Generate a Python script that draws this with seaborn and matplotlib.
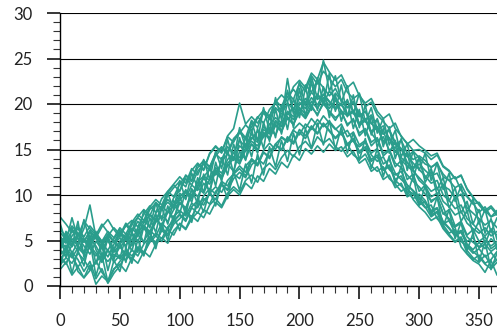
import numpy as np
import pandas as pd
import matplotlib
matplotlib.use("Agg")
import matplotlib.pyplot as plt
import seaborn as sns
from matplotlib.ticker import MultipleLocator

# Day positions (every 5 days, 0..365)
days = list(range(0, 366, 5))

line01 = [7.6, 6.8, 5.9, 6.5, 5.2, 4.6, 5.8, 4.9, 5.5, 6.4,
          5.7, 6.6, 7.2, 6.5, 7.9, 8.8, 8.1, 9.6, 10.4, 9.8,
          11.2, 12.1, 11.5, 13.0, 13.8, 13.1, 14.6, 15.3, 14.7, 16.2,
          16.9, 16.1, 17.5, 18.6, 17.9, 19.4, 20.1, 19.2, 20.8, 21.6,
          20.7, 22.1, 21.3, 22.6, 21.8, 20.9, 21.7, 20.4, 19.6, 20.3,
          18.9, 18.2, 18.8, 17.4, 16.7, 17.2, 15.8, 15.1, 14.2, 14.8,
          14.1, 13.4, 13.1, 13.4, 12.3, 11.6, 10.8, 11.2, 9.9, 9.1,
          8.1, 8.7, 7.6, 7.9]
line02 = [1.8, 2.6, 1.2, 2.1, 0.9, 1.7, 2.8, 1.5, 0.6, 1.9,
          2.4, 1.6, 3.1, 2.5, 3.8, 3.2, 4.6, 5.3, 4.7, 6.1,
          6.8, 6.2, 7.4, 8.1, 7.5, 8.9, 9.6, 8.8, 10.2, 10.9,
          10.3, 11.6, 12.2, 11.4, 12.9, 13.5, 12.8, 14.1, 14.9, 14.2,
          15.3, 15.9, 15.1, 16.4, 15.7, 16.2, 15.3, 14.8, 15.6, 14.4,
          13.9, 14.5, 13.2, 12.6, 13.1, 11.8, 11.2, 10.4, 10.9, 9.5,
          8.7, 8.1, 7.2, 7.6, 6.3, 5.5, 4.8, 5.3, 3.9, 3.1,
          2.6, 3.4, 2.2, 2.9]
line03 = [4.2, 5.1, 3.6, 4.8, 6.3, 8.9, 5.4, 4.1, 3.2, 4.6,
          5.3, 4.4, 5.9, 4.8, 6.7, 5.8, 7.4, 6.6, 8.2, 7.5,
          9.1, 8.4, 10.6, 9.8, 11.3, 10.5, 12.8, 11.9, 13.4, 12.6,
          14.8, 13.9, 15.6, 14.7, 16.9, 16.1, 17.8, 16.9, 18.6, 17.7,
          19.4, 18.5, 19.9, 18.7, 20.3, 19.1, 18.2, 19.3, 17.6, 18.4,
          16.5, 17.2, 15.4, 16.1, 14.3, 14.9, 13.1, 13.8, 11.7, 12.3,
          10.4, 11.1, 9.2, 9.8, 7.9, 8.4, 6.6, 7.1, 5.6, 6.2,
          4.9, 5.4, 4.1, 4.6]
line04 = [5.4, 4.7, 6.2, 5.5, 7.1, 6.3, 5.6, 6.8, 5.9, 4.8,
          5.6, 6.9, 6.1, 7.6, 8.4, 7.7, 9.2, 8.5, 10.3, 11.1,
          10.4, 12.2, 11.6, 13.4, 12.7, 14.5, 15.3, 14.6, 16.4, 15.8,
          17.1, 16.3, 18.2, 17.4, 19.3, 18.6, 20.4, 19.7, 21.2, 20.5,
          22.3, 21.4, 23.1, 22.2, 23.6, 22.8, 21.9, 22.7, 21.3, 20.6,
          21.1, 19.7, 20.2, 18.8, 18.1, 17.3, 17.9, 16.4, 15.7, 14.9,
          15.0, 14.6, 13.9, 14.4, 13.1, 12.6, 11.8, 12.1, 10.7, 9.8,
          8.9, 8.1, 8.6, 7.8]
line05 = [3.1, 2.4, 3.8, 2.9, 1.6, 2.7, 0.8, 1.9, 0.3, 1.4,
          2.2, 3.5, 2.8, 4.1, 3.4, 5.2, 4.6, 6.3, 5.7, 7.1,
          7.8, 7.1, 8.6, 8.0, 9.4, 10.1, 9.5, 11.2, 10.6, 12.3,
          12.9, 12.1, 13.8, 13.2, 14.7, 14.0, 15.6, 15.0, 16.4, 15.8,
          17.2, 16.5, 17.6, 16.8, 17.9, 17.1, 16.3, 17.0, 15.6, 16.2,
          14.8, 15.3, 13.9, 14.4, 12.8, 13.3, 11.7, 12.1, 10.6, 10.1,
          9.3, 8.6, 8.9, 7.4, 6.7, 5.8, 6.2, 4.9, 4.3, 3.6,
          4.1, 3.2, 3.7, 2.8]
line06 = [4.6, 3.9, 5.2, 4.4, 3.7, 4.9, 5.8, 4.6, 5.3, 4.1,
          4.9, 5.7, 5.0, 6.4, 7.2, 6.5, 8.0, 8.8, 8.1, 9.7,
          10.5, 11.8, 11.1, 12.6, 13.4, 12.7, 14.3, 15.1, 14.5, 16.0,
          16.8, 17.7, 17.0, 18.5, 19.3, 18.6, 20.2, 21.0, 20.3, 21.9,
          22.6, 21.8, 23.4, 22.7, 24.6, 23.5, 22.6, 23.2, 21.8, 22.4,
          20.9, 20.1, 20.6, 19.2, 18.4, 18.9, 17.3, 16.5, 15.6, 16.1,
          15.4, 14.9, 14.3, 14.6, 13.2, 12.7, 11.8, 12.2, 10.6, 9.7,
          9.0, 8.3, 8.8, 8.0]
line07 = [2.3, 3.1, 2.5, 3.6, 2.9, 1.8, 2.6, 3.4, 2.7, 3.5,
          3.0, 3.9, 3.3, 4.2, 3.6, 4.8, 5.5, 4.9, 6.2, 5.6,
          6.9, 6.3, 7.7, 7.1, 8.4, 7.9, 9.2, 8.6, 9.9, 10.6,
          10.0, 11.3, 10.7, 12.1, 11.5, 12.9, 12.3, 13.6, 13.0, 14.4,
          13.8, 15.1, 14.5, 15.4, 14.7, 15.6, 14.9, 15.3, 14.2, 14.8,
          13.5, 14.0, 12.6, 13.1, 11.7, 12.2, 10.8, 11.3, 9.8, 10.2,
          8.9, 9.3, 7.8, 8.2, 6.8, 7.2, 5.8, 6.1, 4.9, 5.3,
          4.2, 4.6, 3.8, 4.3]
line08 = [5.9, 5.1, 4.3, 5.6, 4.8, 6.1, 5.3, 6.5, 7.3, 6.2,
          5.4, 6.7, 5.9, 7.1, 6.4, 7.9, 7.2, 8.7, 9.5, 8.8,
          10.2, 9.6, 11.1, 10.5, 12.0, 12.8, 12.2, 13.7, 14.5, 13.9,
          15.4, 14.8, 16.2, 17.0, 16.3, 17.8, 18.5, 17.9, 19.2, 18.6,
          19.9, 20.6, 19.8, 21.1, 20.3, 19.5, 20.4, 19.2, 18.7, 19.1,
          17.6, 18.2, 16.8, 15.9, 16.4, 14.9, 15.3, 13.8, 13.2, 12.6,
          11.9, 11.2, 10.4, 10.8, 9.3, 8.7, 7.8, 8.2, 6.9, 6.3,
          5.8, 6.4, 5.5, 6.0]
line09 = [3.4, 4.2, 3.3, 2.1, 3.0, 4.4, 3.6, 2.6, 3.9, 3.1,
          4.3, 3.5, 4.7, 5.6, 4.9, 6.1, 5.5, 6.9, 6.2, 7.6,
          8.3, 7.7, 9.1, 8.6, 9.9, 10.7, 10.1, 11.5, 11.0, 12.4,
          13.2, 12.5, 14.0, 13.4, 14.9, 15.7, 15.0, 16.4, 15.9, 17.2,
          17.9, 17.3, 18.4, 17.6, 18.7, 17.9, 17.2, 17.8, 16.4, 16.9,
          15.5, 16.0, 14.6, 15.1, 13.4, 13.9, 12.4, 11.7, 11.1, 10.4,
          9.6, 8.7, 7.6, 8.1, 6.4, 5.7, 4.9, 5.4, 3.6, 2.9,
          3.4, 2.5, 2.9, 3.8]
line10 = [4.8, 5.6, 4.9, 3.8, 5.1, 4.3, 5.5, 4.7, 3.9, 5.2,
          6.0, 5.3, 6.8, 7.5, 6.9, 8.4, 9.1, 8.5, 10.0, 10.8,
          11.5, 10.9, 12.7, 13.5, 12.8, 14.6, 15.4, 14.7, 16.5, 17.3,
          20.1, 17.8, 18.6, 17.9, 19.0, 18.3, 19.6, 18.9, 20.1, 19.4,
          20.6, 19.9, 21.3, 20.5, 21.0, 20.2, 19.4, 20.0, 18.7, 19.3,
          17.8, 18.3, 16.9, 17.4, 15.8, 16.2, 14.7, 15.1, 13.6, 12.9,
          13.4, 12.7, 12.1, 12.4, 11.0, 10.6, 9.7, 10.1, 8.6, 8.0,
          7.4, 6.7, 7.2, 6.4]
line11 = [4.0, 3.2, 4.5, 5.3, 4.4, 3.5, 4.9, 4.1, 5.0, 3.7,
          4.6, 5.4, 4.7, 5.9, 6.6, 6.0, 7.3, 6.7, 8.1, 8.9,
          9.4, 10.3, 9.6, 11.0, 11.8, 11.2, 12.6, 12.1, 13.5, 14.2,
          13.7, 15.2, 15.9, 15.4, 16.8, 16.3, 17.6, 17.1, 18.4, 17.8,
          19.1, 18.4, 19.6, 18.9, 20.0, 19.2, 18.5, 19.0, 17.8, 18.2,
          16.8, 17.3, 15.8, 16.3, 14.6, 15.0, 13.5, 13.0, 12.2, 11.5,
          10.9, 10.1, 9.4, 9.7, 8.0, 7.4, 6.5, 6.9, 5.4, 4.8,
          4.3, 5.0, 4.4, 4.9]
line12 = [6.2, 5.5, 6.6, 5.8, 4.9, 6.0, 5.2, 4.3, 5.6, 4.8,
          5.9, 5.1, 6.3, 5.7, 7.0, 7.8, 7.1, 8.5, 9.2, 8.6,
          9.8, 10.5, 9.9, 11.4, 12.1, 11.6, 13.0, 12.4, 13.9, 14.6,
          14.1, 15.6, 16.3, 15.8, 17.2, 16.7, 18.0, 17.5, 18.9, 19.6,
          18.9, 20.3, 19.6, 21.0, 20.1, 21.4, 20.6, 19.8, 20.4, 19.1,
          18.6, 19.2, 17.9, 17.1, 17.6, 16.2, 15.5, 16.0, 14.6, 13.9,
          14.3, 13.8, 13.0, 13.6, 12.0, 11.6, 12.0, 10.5, 9.8, 9.0,
          9.2, 8.3, 7.6, 8.3]
line13 = [3.3, 2.5, 3.7, 1.6, 0.9, 2.3, 0.2, 1.1, 0.5, 1.8,
          2.7, 3.6, 3.0, 4.3, 3.7, 5.0, 5.8, 5.2, 6.5, 7.2,
          7.9, 7.3, 8.7, 9.4, 8.9, 10.2, 10.9, 10.3, 11.6, 12.3,
          11.8, 13.2, 13.9, 13.3, 14.7, 14.2, 15.6, 16.3, 15.8, 17.1,
          16.6, 17.8, 17.2, 18.3, 17.5, 18.1, 17.3, 16.6, 17.1, 15.9,
          15.3, 15.8, 14.4, 13.7, 14.2, 12.8, 12.2, 12.6, 11.1, 10.5,
          9.8, 9.1, 8.3, 8.6, 7.1, 6.4, 5.6, 6.0, 4.5, 3.8,
          3.2, 2.4, 1.9, 2.6]
line14 = [4.5, 5.4, 4.6, 5.8, 5.0, 4.1, 3.3, 4.5, 5.7, 4.9,
          4.2, 5.1, 4.4, 5.6, 6.3, 5.7, 7.0, 7.7, 7.1, 8.4,
          9.2, 8.6, 10.0, 10.8, 10.2, 11.7, 12.4, 11.8, 13.2, 14.0,
          13.4, 14.9, 15.6, 15.0, 16.5, 17.3, 16.6, 18.1, 22.8, 18.9,
          20.2, 19.5, 20.7, 19.9, 21.1, 20.3, 19.5, 20.1, 18.8, 19.3,
          17.9, 18.4, 17.0, 17.5, 15.9, 16.3, 14.8, 14.1, 13.5, 12.8,
          11.6, 11.0, 9.8, 10.2, 8.7, 7.1, 6.4, 4.3, 3.5, 2.8,
          2.4, 1.5, 2.8, 1.2]
line15 = [2.9, 3.8, 3.1, 4.2, 3.5, 5.3, 4.4, 3.2, 4.0, 2.6,
          3.4, 2.8, 4.0, 3.3, 4.6, 5.4, 4.8, 6.1, 5.5, 6.8,
          7.4, 8.2, 7.6, 8.9, 9.6, 9.0, 10.4, 11.1, 10.5, 11.8,
          12.5, 11.9, 13.3, 14.0, 13.4, 14.8, 15.5, 14.9, 16.2, 15.6,
          16.9, 16.2, 17.4, 16.7, 17.8, 17.0, 16.2, 16.8, 15.5, 16.0,
          14.6, 15.1, 13.7, 14.2, 12.7, 13.1, 11.6, 11.0, 10.3, 9.6,
          10.1, 9.4, 8.1, 8.5, 7.0, 6.3, 5.5, 5.9, 4.6, 4.0,
          4.8, 4.1, 5.2, 4.5]
line16 = [5.0, 4.2, 5.5, 6.3, 5.4, 6.6, 5.8, 4.9, 6.0, 5.3,
          6.4, 5.7, 7.0, 7.9, 7.2, 8.7, 9.5, 8.9, 10.4, 11.2,
          12.0, 11.3, 12.9, 12.2, 13.7, 13.0, 14.5, 13.9, 15.3, 14.6,
          16.0, 15.3, 16.7, 16.1, 17.5, 16.8, 18.2, 17.6, 19.0, 18.3,
          19.6, 18.9, 20.3, 19.5, 20.7, 19.8, 21.2, 20.4, 19.6, 20.1,
          18.7, 19.2, 17.8, 18.3, 16.7, 17.1, 15.6, 15.0, 14.3, 13.5,
          12.8, 12.1, 11.3, 11.6, 10.0, 9.4, 8.5, 8.9, 7.4, 6.8,
          6.1, 5.5, 6.2, 5.6]
line17 = [6.9, 4.8, 7.5, 5.2, 3.6, 6.1, 4.0, 2.7, 5.3, 3.8,
          6.2, 4.1, 7.0, 5.6, 8.3, 6.4, 9.1, 7.2, 10.2, 8.4,
          11.6, 9.5, 12.4, 10.8, 13.9, 11.7, 14.8, 12.9, 16.1, 13.8,
          17.4, 15.2, 18.1, 15.9, 19.6, 17.0, 20.7, 18.3, 21.5, 19.1,
          22.4, 19.8, 23.0, 20.6, 24.8, 21.4, 23.1, 20.2, 22.0, 18.9,
          21.2, 18.0, 19.6, 16.8, 18.4, 15.5, 17.1, 14.2, 15.6, 12.9,
          14.1, 11.4, 12.6, 10.0, 11.2, 8.6, 9.8, 7.1, 8.3, 5.7,
          7.2, 4.6, 6.3, 4.0]
line18 = [2.1, 4.5, 1.4, 3.9, 2.2, 5.0, 1.1, 3.4, 0.4, 2.8,
          1.6, 4.2, 2.5, 5.1, 3.3, 6.0, 4.1, 6.8, 5.0, 7.7,
          6.1, 8.6, 7.0, 9.7, 8.1, 10.5, 8.8, 11.4, 9.6, 12.6,
          10.5, 13.4, 11.3, 14.5, 12.2, 15.3, 13.1, 16.0, 13.7, 16.8,
          14.4, 17.3, 15.1, 17.9, 15.5, 18.2, 15.0, 17.5, 14.6, 16.9,
          13.8, 16.2, 12.9, 15.1, 12.0, 14.3, 11.1, 13.2, 10.0, 12.1,
          8.9, 11.0, 7.7, 9.8, 6.5, 8.4, 5.2, 7.0, 3.9, 5.8,
          2.7, 4.9, 1.8, 3.6]
line19 = [5.7, 3.1, 6.4, 4.2, 7.3, 4.9, 6.0, 3.3, 5.5, 2.9,
          4.8, 2.6, 5.9, 3.7, 6.6, 5.0, 7.9, 6.1, 8.8, 7.0,
          9.9, 7.8, 10.7, 9.0, 12.3, 10.1, 13.6, 11.5, 14.9, 12.4,
          16.3, 13.8, 17.2, 14.6, 18.0, 15.9, 19.5, 16.7, 20.3, 17.4,
          21.7, 18.6, 22.5, 19.3, 21.9, 18.5, 21.0, 18.1, 20.5, 17.3,
          19.4, 16.5, 18.7, 15.2, 17.3, 14.6, 16.0, 13.3, 14.7, 11.8,
          14.1, 11.8, 12.9, 10.6, 11.9, 9.3, 10.8, 8.0, 9.3, 6.8,
          8.4, 5.8, 7.4, 5.1]
line20 = [3.8, 6.0, 4.4, 7.1, 3.2, 5.6, 2.4, 4.9, 1.7, 4.2,
          3.0, 5.5, 3.8, 6.3, 4.7, 7.5, 5.9, 8.6, 6.8, 9.4,
          7.9, 10.6, 9.2, 11.9, 10.3, 13.2, 11.0, 14.1, 12.2, 15.6,
          13.5, 16.4, 14.2, 17.3, 15.1, 18.8, 16.3, 19.9, 17.2, 20.6,
          18.5, 21.8, 19.3, 22.9, 20.0, 23.4, 19.2, 22.1, 18.6, 21.0,
          17.4, 19.9, 16.6, 18.4, 15.3, 17.5, 14.0, 16.2, 12.7, 14.8,
          12.7, 14.6, 11.6, 13.5, 10.6, 12.4, 9.3, 11.0, 8.0, 9.6,
          6.8, 8.4, 5.9, 7.5]

series = [line01, line02, line03, line04, line05, line06, line07, line08,
          line09, line10, line11, line12, line13, line14, line15, line16,
          line17, line18, line19, line20]

x_ticks = [0, 50, 100, 150, 200, 250, 300, 350]
y_ticks = [0, 5, 10, 15, 20, 25, 30]

frames = []
for k, vals in enumerate(series):
    frames.append(pd.DataFrame({"day": days, "value": vals, "unit": k}))
df = pd.concat(frames, ignore_index=True)

sns.set_style("white")
plt.rcParams["font.family"] = ["Lato", "DejaVu Sans"]

fig = plt.figure(figsize=(4.97, 3.33), dpi=100)
ax = fig.add_axes([60 / 497, 1 - 286 / 333, 1 - 60 / 497, (286 - 13) / 333])

ax.set_axisbelow(True)
ax.yaxis.grid(True, color="black", linewidth=0.8)
ax.xaxis.grid(False)

sns.lineplot(data=df, x="day", y="value", units="unit", estimator=None,
             color="#2a9d8c", linewidth=1.2, ax=ax, legend=False)

ax.set_xlim(0, 365)
ax.set_ylim(0, 30)
ax.set_xticks(x_ticks)
ax.set_yticks(y_ticks)
ax.xaxis.set_minor_locator(MultipleLocator(10))
ax.yaxis.set_minor_locator(MultipleLocator(1))
ax.set_xlabel("")
ax.set_ylabel("")

for s in ["top", "right"]:
    ax.spines[s].set_visible(False)
for s in ["left", "bottom"]:
    ax.spines[s].set_color("black")
    ax.spines[s].set_linewidth(1.0)

ax.tick_params(axis="both", which="both", bottom=True, left=True,
               top=False, right=False)
ax.tick_params(axis="both", which="major", direction="out", length=9.5,
               width=1.1, color="black", labelsize=12, labelcolor="#222222")
ax.tick_params(axis="both", which="minor", direction="out", length=5,
               width=0.8, color="#333333")
ax.tick_params(axis="y", which="major", pad=10)
ax.tick_params(axis="x", which="major", pad=10)

fig.savefig("out.png", dpi=100)
